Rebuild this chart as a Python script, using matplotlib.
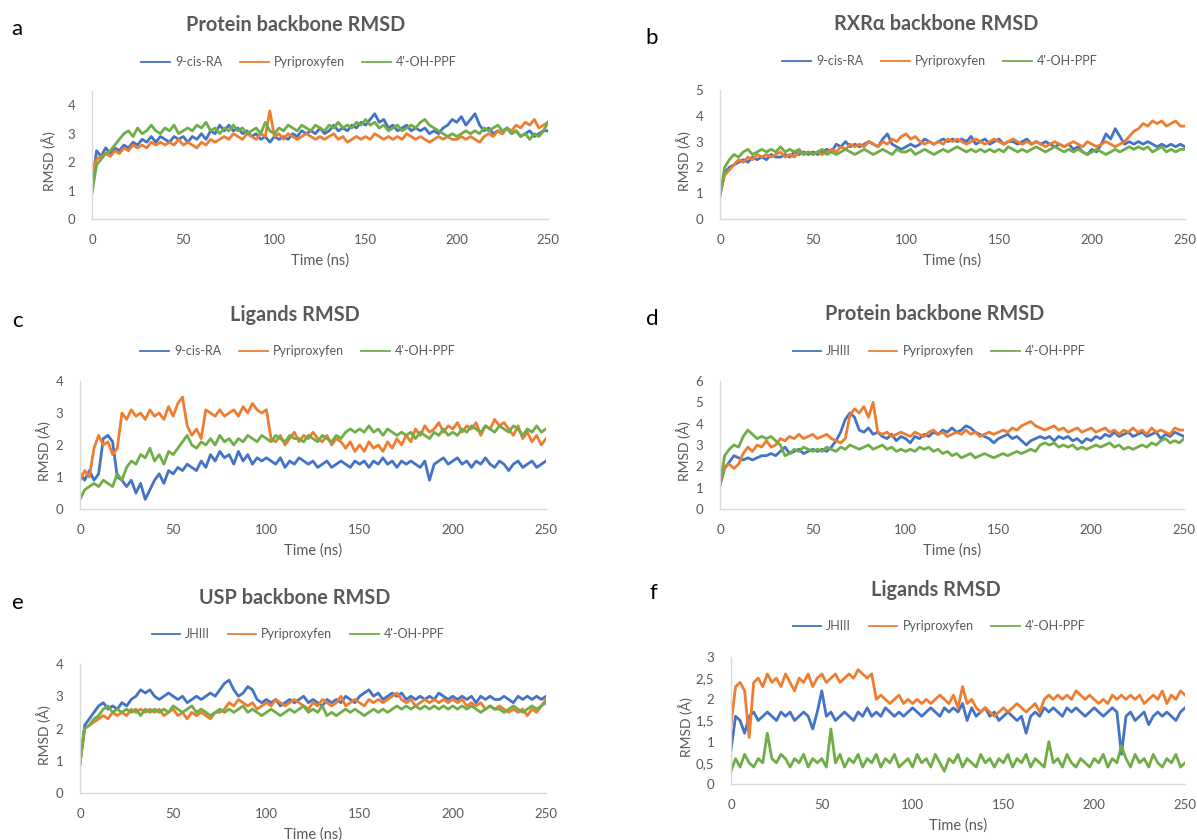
import numpy as np
import matplotlib
matplotlib.use('Agg')
import matplotlib.pyplot as plt
from matplotlib.ticker import FuncFormatter

plt.rcParams['font.family'] = ['Lato', 'DejaVu Sans']

W, H = 1197, 840
GREY = '#595959'
AXIS_GREY = '#D9D9D9'
BLUE, ORANGE, GREEN = '#4472C4', '#ED7D31', '#70AD47'

# one reading every 2.5 ns, 0..250 ns
time_ns = np.arange(0, 250.1, 2.5)

# a - Protein backbone RMSD (RXR/ligand complexes)
a_9cisra = [1.2, 2.4, 2.2, 2.5, 2.3, 2.5, 2.4, 2.6, 2.5, 2.7,
            2.6, 2.8, 2.7, 2.9, 2.7, 2.9, 2.8, 2.7, 2.9, 2.8,
            2.9, 2.7, 2.9, 2.8, 3.0, 2.8, 3.1, 3.0, 3.3, 3.1,
            3.3, 3.1, 3.2, 3.0, 3.1, 2.9, 3.0, 2.8, 2.9, 2.7,
            2.9, 2.8, 2.9, 2.8, 3.0, 2.9, 3.1, 3.0, 3.1, 3.0,
            3.2, 3.0, 3.1, 3.3, 3.1, 3.2, 3.1, 3.3, 3.2, 3.4,
            3.3, 3.5, 3.7, 3.4, 3.5, 3.2, 3.3, 3.1, 3.2, 3.3,
            3.1, 3.2, 3.1, 3.2, 3.0, 3.1, 3.0, 3.2, 3.3, 3.5,
            3.4, 3.6, 3.3, 3.5, 3.7, 3.3, 3.1, 3.2, 3.0, 3.1,
            3.0, 3.2, 3.0, 3.1, 2.9, 3.0, 3.1, 2.9, 3.0, 3.1,
            3.1]
a_pyri = [1.6, 2.1, 2.2, 2.3, 2.2, 2.4, 2.3, 2.5, 2.4, 2.6,
          2.5, 2.6, 2.5, 2.7, 2.6, 2.7, 2.6, 2.7, 2.6, 2.8,
          2.6, 2.7, 2.6, 2.5, 2.7, 2.6, 2.8, 2.7, 2.8, 2.9,
          2.8, 3.0, 2.9, 2.8, 3.0, 2.9, 2.8, 3.0, 2.9, 3.8,
          2.9, 3.0, 2.8, 3.0, 2.9, 2.8, 2.9, 3.0, 2.9, 2.8,
          2.9, 2.8, 2.9, 3.0, 2.8, 2.9, 2.7, 2.8, 2.9, 2.8,
          2.9, 2.8, 3.0, 2.9, 2.8, 2.9, 2.8, 2.9, 2.8, 3.0,
          2.9, 2.8, 2.9, 2.8, 2.7, 2.8, 2.9, 2.8, 2.9, 2.8,
          2.8, 2.9, 2.8, 2.9, 2.8, 2.7, 2.9, 3.0, 2.9, 3.1,
          3.0, 3.2, 3.1, 3.3, 3.2, 3.4, 3.3, 3.5, 3.2, 3.3,
          3.4]
a_ohppf = [0.9, 1.9, 2.1, 2.3, 2.4, 2.6, 2.8, 3.0, 3.1, 2.9,
           3.2, 3.0, 3.1, 3.3, 3.1, 3.0, 3.2, 3.1, 3.3, 3.0,
           3.1, 3.2, 3.1, 3.3, 3.2, 3.4, 3.1, 3.2, 3.0, 3.2,
           3.1, 3.3, 3.1, 3.2, 3.0, 3.1, 3.2, 3.0, 3.4, 3.1,
           3.0, 3.2, 3.1, 3.3, 3.2, 3.1, 3.3, 3.2, 3.1, 3.3,
           3.2, 3.1, 3.3, 3.2, 3.4, 3.2, 3.3, 3.2, 3.4, 3.3,
           3.5, 3.3, 3.4, 3.2, 3.3, 3.1, 3.2, 3.3, 3.1, 3.2,
           3.3, 3.2, 3.4, 3.5, 3.3, 3.2, 3.1, 3.0, 2.9, 3.0,
           2.9, 3.0, 3.1, 3.0, 3.1, 3.0, 3.2, 3.1, 3.2, 3.3,
           3.1, 3.2, 3.0, 3.1, 2.9, 3.0, 2.8, 3.0, 2.9, 3.1,
           3.4]

# b - RXRα backbone RMSD
b_9cisra = [0.9, 1.8, 2.0, 2.1, 2.2, 2.3, 2.2, 2.4, 2.3, 2.4,
            2.3, 2.5, 2.4, 2.4, 2.5, 2.4, 2.6, 2.5, 2.6, 2.5,
            2.6, 2.5, 2.6, 2.7, 2.6, 2.9, 2.8, 3.0, 2.8, 2.9,
            2.8, 2.9, 3.0, 2.9, 2.8, 3.1, 3.3, 2.9, 2.8, 2.7,
            2.8, 2.9, 2.8, 2.9, 3.1, 3.0, 2.9, 3.0, 3.1, 3.0,
            3.1, 3.0, 3.1, 3.0, 3.2, 2.9, 3.0, 3.1, 2.9, 3.0,
            3.1, 2.9, 3.0, 3.0, 2.9, 3.0, 3.1, 2.9, 3.0, 2.9,
            3.0, 2.9, 2.8, 2.9, 2.8, 2.9, 2.7, 2.8, 2.6, 2.5,
            2.7, 2.6, 2.9, 3.3, 3.1, 3.5, 3.2, 2.9, 3.0, 2.9,
            3.0, 2.9, 3.0, 2.9, 2.8, 2.9, 2.8, 2.9, 2.8, 2.9,
            2.8]
b_pyri = [1.0, 1.7, 1.9, 2.1, 2.3, 2.2, 2.4, 2.3, 2.5, 2.4,
          2.5, 2.4, 2.5, 2.6, 2.4, 2.5, 2.4, 2.6, 2.5, 2.6,
          2.5, 2.6, 2.5, 2.6, 2.7, 2.6, 2.8, 2.7, 2.9, 2.8,
          2.9, 2.8, 3.0, 2.9, 2.8, 3.0, 2.9, 3.1, 3.0, 3.2,
          3.3, 3.1, 3.2, 3.0, 2.9, 3.0, 2.9, 3.0, 2.9, 3.1,
          3.0, 3.1, 3.0, 2.9, 3.0, 3.1, 3.0, 2.9, 3.0, 3.1,
          3.0, 2.9, 3.0, 3.1, 3.0, 2.9, 3.0, 2.9, 3.0, 2.9,
          2.8, 2.9, 3.0, 2.9, 2.8, 2.9, 3.0, 2.9, 2.8, 3.0,
          2.9, 2.8, 2.9, 3.0, 2.9, 2.8, 2.9, 3.0, 3.2, 3.4,
          3.5, 3.7, 3.6, 3.8, 3.7, 3.8, 3.6, 3.7, 3.8, 3.6,
          3.6]
b_ohppf = [0.9, 2.0, 2.3, 2.5, 2.4, 2.6, 2.7, 2.5, 2.6, 2.7,
           2.6, 2.7, 2.6, 2.8, 2.6, 2.7, 2.6, 2.7, 2.5, 2.6,
           2.5, 2.6, 2.7, 2.5, 2.6, 2.5, 2.6, 2.7, 2.6, 2.5,
           2.6, 2.7, 2.6, 2.5, 2.6, 2.7, 2.6, 2.5, 2.7, 2.6,
           2.6, 2.7, 2.5, 2.6, 2.7, 2.6, 2.5, 2.6, 2.7, 2.6,
           2.7, 2.8, 2.7, 2.6, 2.7, 2.6, 2.7, 2.6, 2.7, 2.6,
           2.7, 2.6, 2.8, 2.7, 2.6, 2.7, 2.6, 2.7, 2.8, 2.7,
           2.6, 2.7, 2.8, 2.7, 2.6, 2.7, 2.6, 2.7, 2.6, 2.5,
           2.6, 2.7, 2.6, 2.5, 2.6, 2.7, 2.6, 2.7, 2.8, 2.7,
           2.8, 2.7, 2.8, 2.6, 2.7, 2.8, 2.6, 2.7, 2.6, 2.7,
           2.7]

# c - Ligands RMSD (RXR)
c_9cisra = [1.1, 0.9, 1.2, 0.9, 1.1, 2.2, 2.3, 2.1, 1.0, 0.9,
            0.7, 0.9, 0.5, 0.8, 0.3, 0.6, 0.9, 1.1, 0.8, 1.2,
            1.1, 1.3, 1.2, 1.4, 1.3, 1.2, 1.5, 1.3, 1.7, 1.5,
            1.8, 1.6, 1.7, 1.4, 1.8, 1.5, 1.7, 1.4, 1.6, 1.5,
            1.6, 1.5, 1.4, 1.6, 1.3, 1.5, 1.4, 1.6, 1.5, 1.4,
            1.5, 1.3, 1.4, 1.5, 1.3, 1.4, 1.5, 1.4, 1.3, 1.5,
            1.4, 1.5, 1.3, 1.5, 1.4, 1.6, 1.4, 1.5, 1.3, 1.5,
            1.4, 1.5, 1.4, 1.3, 1.5, 0.9, 1.4, 1.5, 1.6, 1.4,
            1.5, 1.6, 1.4, 1.5, 1.3, 1.5, 1.4, 1.6, 1.4, 1.3,
            1.5, 1.4, 1.2, 1.4, 1.5, 1.3, 1.4, 1.5, 1.3, 1.4,
            1.5]
c_pyri = [0.9, 1.2, 1.0, 1.9, 2.3, 2.0, 2.1, 1.7, 1.9, 3.0,
          2.8, 3.1, 2.9, 3.0, 2.8, 3.1, 2.9, 3.0, 2.8, 3.2,
          2.9, 3.3, 3.5, 2.6, 2.3, 2.5, 2.2, 3.1, 3.0, 2.9,
          3.1, 2.9, 3.0, 3.1, 2.9, 3.2, 3.0, 3.3, 3.1, 3.0,
          3.1, 2.2, 2.1, 2.3, 2.0, 2.2, 2.4, 2.1, 2.3, 2.2,
          2.4, 2.2, 2.1, 2.3, 2.0, 2.2, 2.1, 1.9, 2.1, 1.8,
          2.0, 1.8, 2.1, 1.9, 2.0, 1.8, 2.1, 1.9, 2.2, 2.0,
          2.3, 2.1, 2.5, 2.3, 2.6, 2.4, 2.5, 2.7, 2.4, 2.6,
          2.5, 2.7, 2.4, 2.6, 2.5, 2.7, 2.3, 2.6, 2.5, 2.8,
          2.6, 2.7, 2.5, 2.3, 2.6, 2.2, 2.4, 2.1, 2.3, 2.0,
          2.2]
c_ohppf = [0.3, 0.6, 0.7, 0.8, 0.7, 0.9, 0.8, 0.7, 1.1, 0.9,
           1.3, 1.5, 1.4, 1.7, 1.6, 1.9, 1.5, 1.7, 1.4, 1.8,
           1.7, 1.9, 2.1, 2.3, 2.0, 1.9, 2.1, 2.0, 2.2, 2.0,
           2.3, 2.1, 2.2, 2.0, 2.2, 2.1, 2.3, 2.2, 2.1, 2.3,
           2.2, 2.1, 2.3, 2.2, 2.1, 2.3, 2.2, 2.2, 2.1, 2.3,
           2.2, 2.1, 2.3, 2.2, 2.1, 2.3, 2.2, 2.4, 2.5, 2.4,
           2.5, 2.4, 2.6, 2.4, 2.5, 2.3, 2.5, 2.4, 2.3, 2.4,
           2.3, 2.4, 2.2, 2.4, 2.3, 2.2, 2.4, 2.3, 2.5, 2.3,
           2.4, 2.3, 2.5, 2.4, 2.6, 2.5, 2.4, 2.6, 2.5, 2.4,
           2.6, 2.5, 2.4, 2.6, 2.5, 2.3, 2.5, 2.4, 2.6, 2.4,
           2.5]

# d - Protein backbone RMSD (USP/EcR complexes)
d_jhiii = [1.1, 1.9, 2.2, 2.5, 2.4, 2.3, 2.4, 2.3, 2.4, 2.5,
           2.5, 2.6, 2.5, 2.7, 2.9, 2.6, 2.7, 2.8, 2.6, 2.7,
           2.8, 2.7, 2.8, 2.7, 2.9, 3.2, 3.6, 4.2, 4.5, 4.3,
           3.7, 3.6, 3.8, 3.5, 3.6, 3.4, 3.3, 3.5, 3.2, 3.4,
           3.3, 3.1, 3.4, 3.3, 3.5, 3.4, 3.6, 3.5, 3.7, 3.6,
           3.8, 3.6, 3.7, 3.9, 3.8, 3.6, 3.5, 3.4, 3.3, 3.1,
           3.3, 3.4, 3.5, 3.3, 3.4, 3.2, 3.0, 3.2, 3.3, 3.4,
           3.3, 3.4, 3.2, 3.4, 3.3, 3.4, 3.2, 3.3, 3.1, 3.3,
           3.2, 3.4, 3.3, 3.5, 3.4, 3.6, 3.4, 3.5, 3.6, 3.4,
           3.5, 3.6, 3.4, 3.5, 3.6, 3.3, 3.5, 3.4, 3.6, 3.5,
           3.4]
d_pyri = [1.2, 2.0, 2.1, 1.9, 2.1, 2.6, 2.9, 2.7, 3.0, 2.9,
          3.2, 2.9, 3.0, 3.3, 3.2, 3.4, 3.3, 3.5, 3.3, 3.4,
          3.5, 3.3, 3.4, 3.5, 3.3, 3.2, 3.1, 3.3, 4.4, 4.7,
          4.5, 4.8, 4.3, 5.0, 3.6, 3.5, 3.6, 3.4, 3.5, 3.6,
          3.5, 3.4, 3.6, 3.5, 3.4, 3.6, 3.7, 3.5, 3.6, 3.4,
          3.5, 3.6, 3.5, 3.7, 3.5, 3.6, 3.4, 3.5, 3.6, 3.5,
          3.6, 3.7, 3.6, 3.8, 3.7, 3.9, 4.0, 4.1, 3.9, 3.8,
          3.7, 3.8, 3.9, 3.7, 3.8, 3.6, 3.7, 3.8, 3.6, 3.7,
          3.8, 3.6, 3.7, 3.8, 3.6, 3.7, 3.5, 3.7, 3.6, 3.8,
          3.6, 3.7, 3.5, 3.8, 3.6, 3.7, 3.6, 3.5, 3.8, 3.7,
          3.7]
d_ohppf = [1.2, 2.5, 2.8, 3.0, 2.9, 3.4, 3.7, 3.5, 3.3, 3.4,
           3.3, 3.4, 3.2, 3.0, 2.5, 2.6, 2.8, 2.7, 2.9, 2.8,
           2.7, 2.8, 2.7, 2.9, 2.8, 2.7, 2.9, 2.8, 3.0, 2.9,
           2.8, 2.9, 3.0, 2.8, 2.9, 3.0, 2.8, 2.9, 2.7, 2.8,
           2.7, 2.8, 2.7, 2.9, 2.8, 2.9, 2.7, 2.8, 2.6, 2.7,
           2.5, 2.6, 2.4, 2.5, 2.6, 2.4, 2.5, 2.6, 2.5, 2.4,
           2.5, 2.6, 2.5, 2.6, 2.7, 2.6, 2.7, 2.8, 2.7, 3.0,
           3.1, 3.0, 3.1, 2.9, 3.0, 2.9, 3.0, 2.8, 2.9, 2.8,
           2.9, 3.0, 2.9, 3.0, 3.1, 2.9, 3.0, 2.8, 2.9, 2.8,
           2.9, 3.0, 2.9, 3.1, 3.0, 3.2, 3.3, 3.1, 3.2, 3.1,
           3.3]

# e - USP backbone RMSD
e_jhiii = [0.9, 2.1, 2.3, 2.5, 2.7, 2.8, 2.6, 2.7, 2.6, 2.8,
           2.7, 2.9, 3.0, 3.2, 3.1, 3.2, 3.0, 2.9, 3.0, 3.1,
           3.0, 2.9, 3.0, 2.8, 2.9, 3.0, 2.9, 3.0, 3.1, 3.0,
           3.2, 3.4, 3.5, 3.2, 3.0, 3.1, 3.3, 3.2, 2.9, 2.8,
           2.9, 2.8, 2.9, 2.7, 2.8, 2.9, 2.8, 2.9, 3.0, 2.8,
           2.9, 2.8, 2.7, 2.9, 2.8, 2.9, 2.8, 3.0, 2.9, 2.8,
           3.0, 3.1, 3.2, 3.0, 3.1, 2.9, 3.0, 3.1, 3.0, 3.1,
           2.9, 3.0, 2.9, 3.0, 2.9, 3.0, 2.9, 3.1, 3.0, 2.9,
           3.0, 2.9, 3.0, 2.9, 3.0, 2.8, 3.0, 2.9, 3.0, 2.9,
           2.9, 3.0, 2.9, 2.8, 3.0, 2.9, 3.0, 2.9, 3.0, 2.9,
           3.0]
e_pyri = [1.0, 2.0, 2.1, 2.2, 2.3, 2.4, 2.3, 2.5, 2.4, 2.5,
          2.4, 2.6, 2.5, 2.6, 2.5, 2.6, 2.5, 2.6, 2.4, 2.5,
          2.6, 2.4, 2.5, 2.3, 2.5, 2.4, 2.5, 2.4, 2.3, 2.5,
          2.5, 2.6, 2.8, 2.7, 2.9, 2.8, 2.7, 2.8, 2.6, 2.7,
          2.8, 2.7, 2.9, 2.8, 2.7, 2.8, 2.9, 2.8, 2.7, 2.6,
          2.8, 2.7, 2.9, 2.8, 2.7, 2.8, 3.0, 2.7, 2.8, 2.9,
          2.8, 2.7, 2.9, 2.8, 2.9, 2.8, 2.9, 3.0, 3.1, 2.9,
          2.8, 2.9, 2.7, 2.8, 2.9, 2.8, 2.9, 2.8, 2.9, 2.8,
          2.9, 2.8, 2.9, 2.7, 2.8, 2.7, 2.8, 2.6, 2.7, 2.6,
          2.7, 2.6, 2.5, 2.6, 2.5, 2.6, 2.4, 2.6, 2.5, 2.7,
          2.9]
e_ohppf = [0.9, 2.0, 2.1, 2.3, 2.4, 2.6, 2.7, 2.5, 2.6, 2.5,
           2.6, 2.5, 2.6, 2.4, 2.6, 2.5, 2.6, 2.5, 2.6, 2.5,
           2.7, 2.6, 2.5, 2.6, 2.7, 2.5, 2.6, 2.5, 2.4, 2.5,
           2.6, 2.5, 2.6, 2.5, 2.6, 2.7, 2.5, 2.6, 2.5, 2.4,
           2.5, 2.6, 2.5, 2.4, 2.5, 2.6, 2.5, 2.6, 2.7, 2.5,
           2.6, 2.5, 2.7, 2.4, 2.5, 2.4, 2.5, 2.6, 2.5, 2.6,
           2.5, 2.4, 2.5, 2.6, 2.5, 2.6, 2.5, 2.6, 2.7, 2.6,
           2.7, 2.6, 2.7, 2.6, 2.7, 2.6, 2.7, 2.6, 2.7, 2.6,
           2.7, 2.6, 2.7, 2.6, 2.7, 2.6, 2.5, 2.6, 2.7, 2.6,
           2.6, 2.5, 2.6, 2.7, 2.6, 2.5, 2.6, 2.7, 2.6, 2.7,
           2.8]

# f - Ligands RMSD (USP/EcR)
f_jhiii = [0.8, 1.6, 1.5, 1.2, 1.6, 1.7, 1.5, 1.6, 1.7, 1.6,
           1.5, 1.7, 1.6, 1.7, 1.5, 1.6, 1.7, 1.6, 1.3, 1.7,
           2.2, 1.6, 1.7, 1.5, 1.6, 1.7, 1.6, 1.5, 1.7, 1.6,
           1.8, 1.6, 1.7, 1.6, 1.8, 1.7, 1.6, 1.7, 1.6, 1.7,
           1.8, 1.7, 1.6, 1.7, 1.8, 1.7, 1.6, 1.8, 1.7, 1.8,
           1.7, 1.9, 1.5, 1.8, 1.6, 1.7, 1.8, 1.6, 1.7, 1.5,
           1.6, 1.7, 1.6, 1.5, 1.6, 1.2, 1.6, 1.7, 1.6, 1.8,
           1.7, 1.8, 1.7, 1.6, 1.8, 1.7, 1.8, 1.7, 1.6, 1.7,
           1.8, 1.7, 1.6, 1.7, 1.8, 1.7, 0.7, 1.6, 1.7, 1.5,
           1.6, 1.7, 1.4, 1.6, 1.7, 1.6, 1.7, 1.6, 1.5, 1.7,
           1.8]
f_pyri = [1.4, 2.3, 2.4, 2.2, 1.1, 2.4, 2.5, 2.3, 2.6, 2.4,
          2.5, 2.3, 2.6, 2.4, 2.2, 2.5, 2.4, 2.6, 2.3, 2.5,
          2.6, 2.4, 2.5, 2.6, 2.4, 2.5, 2.6, 2.5, 2.7, 2.6,
          2.5, 2.6, 2.0, 2.1, 2.0, 1.9, 2.0, 2.1, 1.9, 2.0,
          1.9, 2.0, 1.9, 2.0, 1.9, 2.0, 2.1, 2.0, 1.9, 2.1,
          1.8, 2.3, 1.9, 2.0, 1.8, 1.7, 1.8, 1.7, 1.6, 1.7,
          1.8, 1.7, 1.8, 1.9, 1.8, 1.7, 1.8, 1.9, 1.7, 2.0,
          2.1, 2.0, 2.1, 2.0, 2.1, 2.0, 2.2, 2.1, 2.0, 2.1,
          2.0, 1.9, 2.0, 1.9, 2.1, 2.0, 2.1, 2.0, 2.1, 2.0,
          2.1, 1.9, 2.0, 2.1, 2.0, 2.2, 1.9, 2.1, 2.0, 2.2,
          2.1]
f_ohppf = [0.3, 0.6, 0.4, 0.7, 0.5, 0.4, 0.6, 0.5, 1.2, 0.6,
           0.5, 0.7, 0.6, 0.4, 0.6, 0.5, 0.7, 0.4, 0.6, 0.5,
           0.6, 0.4, 1.3, 0.5, 0.7, 0.4, 0.6, 0.5, 0.7, 0.4,
           0.6, 0.5, 0.7, 0.4, 0.6, 0.5, 0.7, 0.4, 0.5, 0.6,
           0.4, 0.7, 0.5, 0.6, 0.4, 0.7, 0.5, 0.3, 0.6, 0.5,
           0.7, 0.4, 0.6, 0.5, 0.4, 0.7, 0.5, 0.6, 0.4, 0.6,
           0.5, 0.7, 0.4, 0.6, 0.5, 0.7, 0.4, 0.6, 0.5, 0.4,
           1.0, 0.5, 0.6, 0.4, 0.7, 0.5, 0.4, 0.6, 0.5, 0.4,
           0.6, 0.5, 0.7, 0.4, 0.6, 0.5, 0.9, 0.6, 0.4, 0.7,
           0.5, 0.6, 0.4, 0.7, 0.5, 0.4, 0.6, 0.5, 0.7, 0.4,
           0.5]

rxr_names = ['9-cis-RA', 'Pyriproxyfen', "4'-OH-PPF"]
usp_names = ['JHIII', 'Pyriproxyfen', "4'-OH-PPF"]

panels = [
    # letter, title, names, series, ymax, ytick step
    ('a', 'Protein backbone RMSD', rxr_names, [a_9cisra, a_pyri, a_ohppf], 4.5, 1),
    ('b', 'RXRα backbone RMSD', rxr_names, [b_9cisra, b_pyri, b_ohppf], 5, 1),
    ('c', 'Ligands RMSD', rxr_names, [c_9cisra, c_pyri, c_ohppf], 4, 1),
    ('d', 'Protein backbone RMSD', usp_names, [d_jhiii, d_pyri, d_ohppf], 6, 1),
    ('e', 'USP backbone RMSD', usp_names, [e_jhiii, e_pyri, e_ohppf], 4, 1),
    ('f', 'Ligands RMSD', usp_names, [f_jhiii, f_pyri, f_ohppf], 3, 0.5),
]

# pixel layout: axes (x0, x1, ybottom, ytop), letter xy, title xy, legend xy, ylabel x
layout = {
    'a': dict(ax=(92, 548, 219, 91), letter=(17, 29), title=(296, 25), legend=(299, 62), ylab=49),
    'b': dict(ax=(720, 1185, 219, 90), letter=(652, 38), title=(936, 24), legend=(940, 61), ylab=684),
    'c': dict(ax=(80, 546, 509, 381), letter=(17, 321), title=(295, 315), legend=(298, 351), ylab=44),
    'd': dict(ax=(720, 1184, 509, 381), letter=(652, 319), title=(935, 314), legend=(939, 351), ylab=684),
    'e': dict(ax=(80, 546, 793, 664), letter=(17, 603), title=(295, 598), legend=(298, 634), ylab=44),
    'f': dict(ax=(731, 1185, 784, 657), letter=(653, 593), title=(936, 590), legend=(939, 626), ylab=686),
}

fig = plt.figure(figsize=(W / 100, H / 100), dpi=100)

for letter, title, names, series, ymax, ystep in panels:
    lay = layout[letter]
    x0, x1, yb, yt = lay['ax']
    ax = fig.add_axes([x0 / W, 1 - yb / H, (x1 - x0) / W, (yb - yt) / H])
    for values, name, color in zip(series, names, [BLUE, ORANGE, GREEN]):
        ax.plot(time_ns, values, color=color, lw=2.0, label=name)
    ax.set_xlim(0, 250)
    ax.set_ylim(0, ymax)
    ax.set_xticks(np.arange(0, 251, 50))
    ax.set_yticks(np.arange(0, np.floor(ymax) + 0.01, ystep))
    ax.yaxis.set_major_formatter(FuncFormatter(lambda v, p: ('%g' % v).replace('.', ',')))
    for side in ['top', 'right']:
        ax.spines[side].set_visible(False)
    for side in ['left', 'bottom']:
        ax.spines[side].set_color(AXIS_GREY)
        ax.spines[side].set_linewidth(1.0)
    ax.tick_params(length=0, labelsize=9.5, colors=GREY)
    ax.tick_params(axis='x', pad=11)
    ax.tick_params(axis='y', pad=12)

    ax.set_xlabel('Time (ns)', fontsize=10.5, color=GREY)
    ax.xaxis.label.set_va('center')
    ax.xaxis.set_label_coords(0.5, -42 / (yb - yt))
    ax.set_ylabel('RMSD (Å)', fontsize=10, color=GREY)
    ax.yaxis.label.set_va('center')
    ax.yaxis.set_label_coords((lay['ylab'] - x0) / (x1 - x0), 0.45)

    fig.text(lay['title'][0] / W, 1 - lay['title'][1] / H, title, ha='center', va='center',
             fontsize=14.3, fontweight='bold', color=GREY)
    fig.text(lay['letter'][0] / W, 1 - lay['letter'][1] / H, letter, ha='center', va='center',
             fontsize=16, color='black')
    leg = ax.legend(loc='center', bbox_to_anchor=(lay['legend'][0] / W, 1 - lay['legend'][1] / H),
                    bbox_transform=fig.transFigure, ncol=3, frameon=False, fontsize=9,
                    handlelength=2.3, handletextpad=0.4, columnspacing=1.4, labelcolor=GREY)
    for handle in leg.get_lines():
        handle.set_linewidth(1.3)

fig.savefig('out.png', dpi=100)
